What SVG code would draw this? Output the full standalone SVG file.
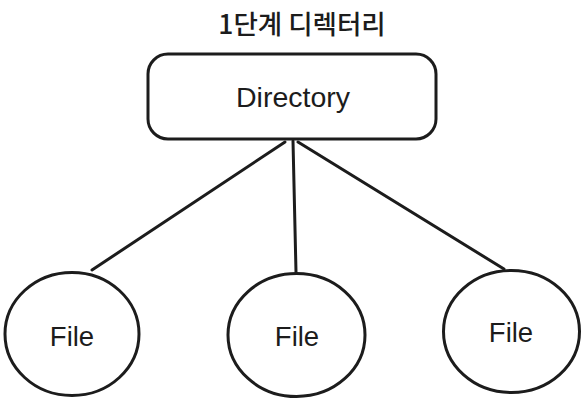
<svg xmlns="http://www.w3.org/2000/svg" width="586" height="404" viewBox="0 0 586 404">
<style>
.shape{fill:#fff;stroke:#1c1c1c;stroke-width:3}
.conn line{stroke:#1c1c1c;stroke-width:3;stroke-linecap:round}
.lbl{font-family:"Liberation Sans",Arial,sans-serif;font-size:27.5px;fill:#1c1c1c;text-anchor:middle}
.dir{font-size:28.5px}
.title{font-family:"Noto Sans CJK KR","Noto Sans",sans-serif;font-size:26.5px;font-weight:500;fill:#1c1c1c;text-anchor:middle}
</style>
<rect width="586" height="404" fill="#fff"/>
<text class="title" x="302" y="34">1단계 디렉터리</text>
<g id="connectors" class="conn">
<line x1="285" y1="142" x2="92" y2="270"/>
<line x1="293" y1="141" x2="296" y2="272"/>
<line x1="298" y1="142" x2="504" y2="269"/>
</g>
<g id="directory">
<rect class="shape" x="148" y="54" width="288" height="85" rx="20"/>
<text class="lbl dir" x="293" y="107">Directory</text>
</g>
<g id="file1">
<ellipse class="shape" cx="72" cy="334" rx="67" ry="61.5"/>
<text class="lbl" x="72" y="346">File</text>
</g>
<g id="file2">
<ellipse class="shape" cx="296.5" cy="335" rx="68.5" ry="61.5"/>
<text class="lbl" x="297" y="346">File</text>
</g>
<g id="file3">
<ellipse class="shape" cx="511.5" cy="331.5" rx="68" ry="61"/>
<text class="lbl" x="511" y="342">File</text>
</g>
</svg>
